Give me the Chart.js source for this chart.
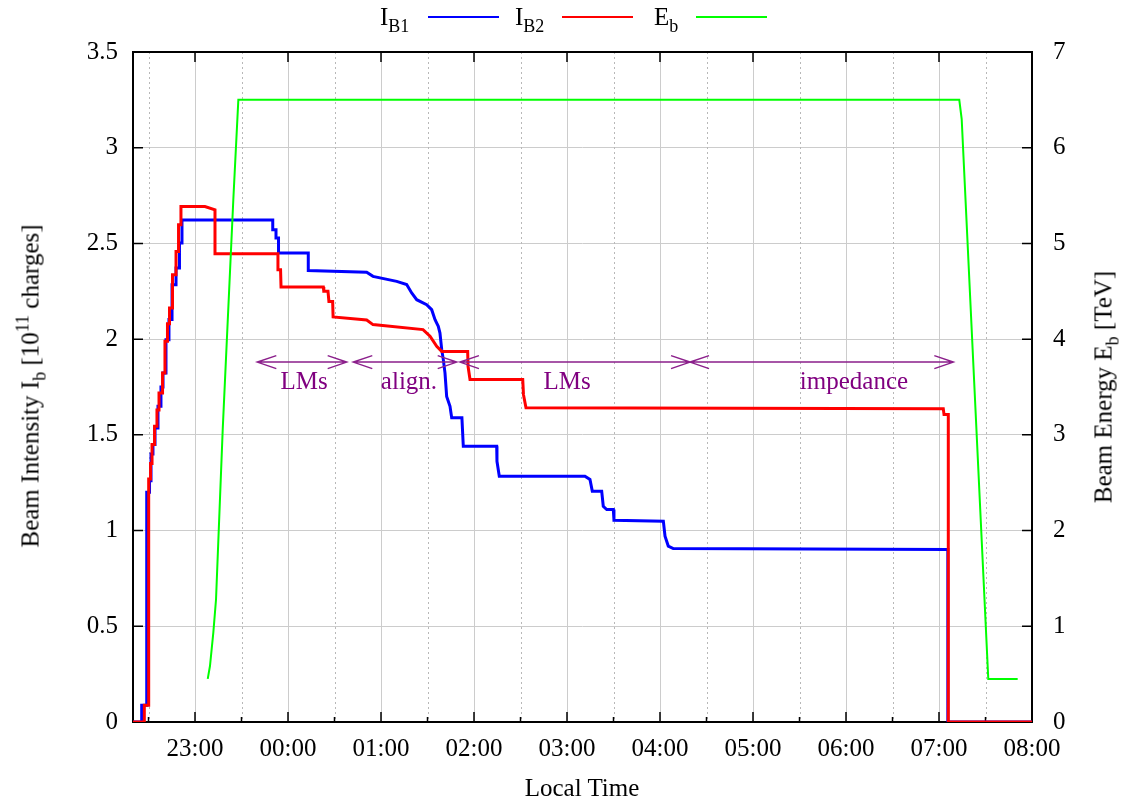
<!DOCTYPE html>
<html>
<head>
<meta charset="utf-8">
<script src="https://cdn.jsdelivr.net/npm/chart.js@4/dist/chart.umd.min.js"></script>
<style>
  body { margin: 0; background: #fff; }
  #wrap { position: relative; width: 1121px; height: 801px; font-family: 'Liberation Serif', 'Times New Roman', serif; color: #000; }
  #chart { position: absolute; left: 0; top: 0; }
  .txt { position: absolute; font-size: 25px; line-height: 25px; white-space: nowrap; }
  .sub { font-size: 18px; vertical-align: -7px; line-height: 0; }
  .sup { font-size: 18px; vertical-align: 10px; line-height: 0; }
  .key { position: absolute; top: 16px; width: 71px; height: 0; border-top: 2px solid; }
  .vtitle { transform: translate(-50%, -50%) rotate(-90deg); }
</style>
</head>
<body>
<div id="wrap">
  <canvas id="chart" width="1121" height="801"></canvas>

  <div class="txt" style="left:380px;top:4px">I<span class="sub">B1</span></div>
  <div class="key" style="left:428px;border-color:#0000ff"></div>
  <div class="txt" style="left:515px;top:4px">I<span class="sub">B2</span></div>
  <div class="key" style="left:562px;border-color:#ff0000"></div>
  <div class="txt" style="left:654px;top:4px">E<span class="sub">b</span></div>
  <div class="key" style="left:696px;border-color:#00ff00"></div>

  <div class="txt vtitle" style="left:30px;top:386px">Beam Intensity I<span class="sub">b</span> [10<span class="sup">11</span> charges]</div>
  <div class="txt vtitle" style="left:1103px;top:387px">Beam Energy E<span class="sub">b</span> [TeV]</div>
  <div class="txt" style="left:582px;top:775px;transform:translateX(-50%)">Local Time</div>
</div>

<script>
// time runs in hours, past midnight it keeps counting (24 = 00:00)
const xMin = 22 + 20 / 60;
const xMax = 32;
const hourTicks = [23, 24, 25, 26, 27, 28, 29, 30, 31, 32];
const hourLabels = ['23:00', '00:00', '01:00', '02:00', '03:00', '04:00', '05:00', '06:00', '07:00', '08:00'];
const halfHourTicks = [22.5, 23.5, 24.5, 25.5, 26.5, 27.5, 28.5, 29.5, 30.5, 31.5];
const intensityTicks = [0, 0.5, 1, 1.5, 2, 2.5, 3, 3.5];
const intensityLabels = ['0', '0.5', '1', '1.5', '2', '2.5', '3', '3.5'];
const energyTicks = [0, 1, 2, 3, 4, 5, 6, 7];
const energyLabels = ['0', '1', '2', '3', '4', '5', '6', '7'];

// beam 1 intensity [1e11 charges]
const ib1Time = [22.333, 22.427, 22.427, 22.481, 22.481, 22.511, 22.511, 22.527, 22.527, 22.548, 22.548, 22.570, 22.570, 22.602, 22.602, 22.634, 22.634, 22.656, 22.656, 22.688, 22.688, 22.720, 22.720, 22.753, 22.753, 22.796, 22.796, 22.833, 22.833, 22.860, 22.860, 23.836, 23.836, 23.871, 23.871, 23.898, 23.898, 24.218, 24.218, 24.846, 24.914, 25.169, 25.276, 25.330, 25.384, 25.491, 25.545, 25.581, 25.616, 25.634, 25.653, 25.670, 25.688, 25.706, 25.742, 25.760, 25.870, 25.885, 26.244, 26.247, 26.272, 27.193, 27.247, 27.272, 27.373, 27.390, 27.427, 27.498, 27.505, 28.036, 28.054, 28.089, 28.143, 31.095, 31.095, 32];
const ib1Value = [0, 0, 0.087, 0.087, 1.20, 1.20, 1.26, 1.26, 1.40, 1.40, 1.45, 1.45, 1.536, 1.536, 1.649, 1.649, 1.75, 1.75, 1.823, 1.823, 1.997, 1.997, 2.102, 2.102, 2.284, 2.284, 2.372, 2.372, 2.502, 2.502, 2.623, 2.623, 2.571, 2.571, 2.528, 2.528, 2.45, 2.45, 2.359, 2.35, 2.328, 2.302, 2.285, 2.241, 2.206, 2.18, 2.154, 2.102, 2.067, 2.032, 1.945, 1.893, 1.824, 1.701, 1.649, 1.589, 1.589, 1.44, 1.44, 1.362, 1.284, 1.284, 1.267, 1.206, 1.206, 1.127, 1.11, 1.11, 1.054, 1.049, 0.971, 0.919, 0.906, 0.901, 0, 0];

// beam 2 intensity [1e11 charges]
const ib2Time = [22.333, 22.455, 22.455, 22.502, 22.502, 22.522, 22.522, 22.538, 22.538, 22.565, 22.565, 22.591, 22.591, 22.613, 22.613, 22.651, 22.651, 22.677, 22.677, 22.704, 22.704, 22.726, 22.726, 22.758, 22.758, 22.796, 22.796, 22.823, 22.823, 22.849, 22.849, 23.107, 23.215, 23.215, 23.892, 23.892, 23.920, 23.925, 24.380, 24.385, 24.430, 24.440, 24.480, 24.485, 24.846, 24.914, 25.452, 25.527, 25.599, 25.653, 25.932, 25.936, 25.957, 26.524, 26.532, 26.559, 31.046, 31.054, 31.100, 31.100, 32];
const ib2Value = [0, 0, 0.087, 0.087, 1.27, 1.27, 1.35, 1.35, 1.45, 1.45, 1.545, 1.545, 1.63, 1.63, 1.719, 1.719, 1.823, 1.823, 1.989, 1.989, 2.08, 2.08, 2.163, 2.163, 2.337, 2.337, 2.458, 2.458, 2.598, 2.598, 2.693, 2.693, 2.676, 2.446, 2.446, 2.363, 2.363, 2.272, 2.272, 2.25, 2.25, 2.197, 2.197, 2.116, 2.10, 2.076, 2.05, 2.015, 1.962, 1.936, 1.936, 1.858, 1.789, 1.789, 1.71, 1.641, 1.637, 1.606, 1.606, 0, 0];

// beam energy [TeV]
const ebTime = [23.137, 23.161, 23.197, 23.226, 23.298, 23.412, 23.466, 31.218, 31.244, 31.530, 31.846];
const ebValue = [0.45, 0.585, 0.933, 1.28, 3.055, 5.456, 6.5, 6.5, 6.3, 0.45, 0.45];

// machine activity periods
const phaseStart = [23.670, 24.702, 25.849, 28.323];
const phaseEnd = [24.631, 25.814, 28.323, 31.154];
const phaseNames = ['LMs', 'align.', 'LMs', 'impedance'];
const phaseNameTime = [24.172, 25.301, 27.0, 30.086];
const phaseArrowLevel = 1.88;
const phaseNameLevel = 1.742;

const tickFont = { family: "'Liberation Serif', 'Times New Roman', serif", size: 25 };

function toPoints(ts, vs) {
  return ts.map((t, i) => ({ x: t, y: vs[i] }));
}

function seg(ctx, x0, y0, x1, y1) {
  ctx.moveTo(x0, y0);
  ctx.lineTo(x1, y1);
}

const decor = {
  id: 'decor',
  beforeDatasetsDraw(chart) {
    const { ctx, chartArea: a, scales } = chart;
    const x = scales.x, y = scales.y, y2 = scales.y2;

    // dotted half hour grid
    ctx.save();
    ctx.strokeStyle = '#b8b8b8';
    ctx.lineWidth = 1;
    ctx.setLineDash([2, 3]);
    ctx.beginPath();
    halfHourTicks.forEach(h => {
      const px = Math.round(x.getPixelForValue(h)) + 0.5;
      seg(ctx, px, a.top, px, a.bottom);
    });
    ctx.stroke();
    ctx.restore();

    // box and inward tics
    ctx.save();
    ctx.strokeStyle = '#000';
    ctx.lineWidth = 2;
    ctx.strokeRect(a.left, a.top, a.right - a.left, a.bottom - a.top);
    ctx.lineWidth = 1.5;
    ctx.beginPath();
    hourTicks.forEach(h => {
      const px = x.getPixelForValue(h);
      seg(ctx, px, a.bottom, px, a.bottom - 10);
      seg(ctx, px, a.top, px, a.top + 10);
    });
    halfHourTicks.forEach(h => {
      const px = x.getPixelForValue(h);
      seg(ctx, px, a.bottom, px, a.bottom - 5);
    });
    intensityTicks.forEach(v => {
      const py = y.getPixelForValue(v);
      seg(ctx, a.left, py, a.left + 10, py);
    });
    energyTicks.forEach(v => {
      const py = y2.getPixelForValue(v);
      seg(ctx, a.right, py, a.right - 10, py);
    });
    ctx.stroke();
    ctx.restore();
  },
  afterDatasetsDraw(chart) {
    const { ctx, scales } = chart;
    const x = scales.x, y = scales.y;
    const py = y.getPixelForValue(phaseArrowLevel);

    // double headed arrows for each period
    ctx.save();
    ctx.strokeStyle = '#8b1f8b';
    ctx.lineWidth = 1.5;
    ctx.beginPath();
    phaseStart.forEach((t0, i) => {
      const x0 = x.getPixelForValue(t0);
      const x1 = x.getPixelForValue(phaseEnd[i]);
      seg(ctx, x0, py, x1, py);
      ctx.moveTo(x0 + 19, py - 6.5); ctx.lineTo(x0, py); ctx.lineTo(x0 + 19, py + 6.5);
      ctx.moveTo(x1 - 19, py - 6.5); ctx.lineTo(x1, py); ctx.lineTo(x1 - 19, py + 6.5);
    });
    ctx.stroke();

    ctx.fillStyle = '#800080';
    ctx.font = "25px 'Liberation Serif', 'Times New Roman', serif";
    ctx.textAlign = 'center';
    ctx.textBaseline = 'alphabetic';
    const ly = y.getPixelForValue(phaseNameLevel);
    phaseNames.forEach((name, i) => {
      ctx.fillText(name, x.getPixelForValue(phaseNameTime[i]), ly);
    });
    ctx.restore();
  }
};

new Chart(document.getElementById('chart'), {
  type: 'line',
  data: {
    datasets: [
      {
        label: 'I_B1',
        data: toPoints(ib1Time, ib1Value),
        borderColor: '#0000ff',
        borderWidth: 3,
        pointRadius: 0,
        tension: 0,
        yAxisID: 'y',
        order: 2
      },
      {
        label: 'I_B2',
        data: toPoints(ib2Time, ib2Value),
        borderColor: '#ff0000',
        borderWidth: 3,
        pointRadius: 0,
        tension: 0,
        yAxisID: 'y',
        order: 1
      },
      {
        label: 'E_b',
        data: toPoints(ebTime, ebValue),
        borderColor: '#00ff00',
        borderWidth: 2,
        pointRadius: 0,
        tension: 0,
        yAxisID: 'y2',
        order: 0
      }
    ]
  },
  options: {
    responsive: false,
    animation: false,
    devicePixelRatio: 1,
    parsing: false,
    layout: { padding: { top: 52, left: 0, right: 0, bottom: 0 } },
    plugins: {
      legend: { display: false },
      tooltip: { enabled: false }
    },
    scales: {
      x: {
        type: 'linear',
        position: 'bottom',
        min: xMin,
        max: xMax,
        afterBuildTicks: s => { s.ticks = hourTicks.map(v => ({ value: v })); },
        afterFit: s => { s.height = 79; },
        grid: { color: '#cccccc', lineWidth: 1, drawTicks: false },
        border: { display: false },
        ticks: {
          padding: 12,
          font: tickFont,
          color: '#000',
          maxRotation: 0,
          autoSkip: false,
          callback: (v, i) => hourLabels[i]
        }
      },
      y: {
        position: 'left',
        min: 0,
        max: 3.5,
        afterBuildTicks: s => { s.ticks = intensityTicks.map(v => ({ value: v })); },
        afterFit: s => { s.width = 133; },
        grid: { color: '#cccccc', lineWidth: 1, drawTicks: false },
        border: { display: false },
        ticks: {
          padding: 15,
          font: tickFont,
          color: '#000',
          callback: (v, i) => intensityLabels[i]
        }
      },
      y2: {
        position: 'right',
        min: 0,
        max: 7,
        afterBuildTicks: s => { s.ticks = energyTicks.map(v => ({ value: v })); },
        afterFit: s => { s.width = 89; },
        grid: { drawOnChartArea: false, drawTicks: false },
        border: { display: false },
        ticks: {
          padding: 21,
          font: tickFont,
          color: '#000',
          callback: (v, i) => energyLabels[i]
        }
      }
    }
  },
  plugins: [decor]
});
</script>
</body>
</html>
